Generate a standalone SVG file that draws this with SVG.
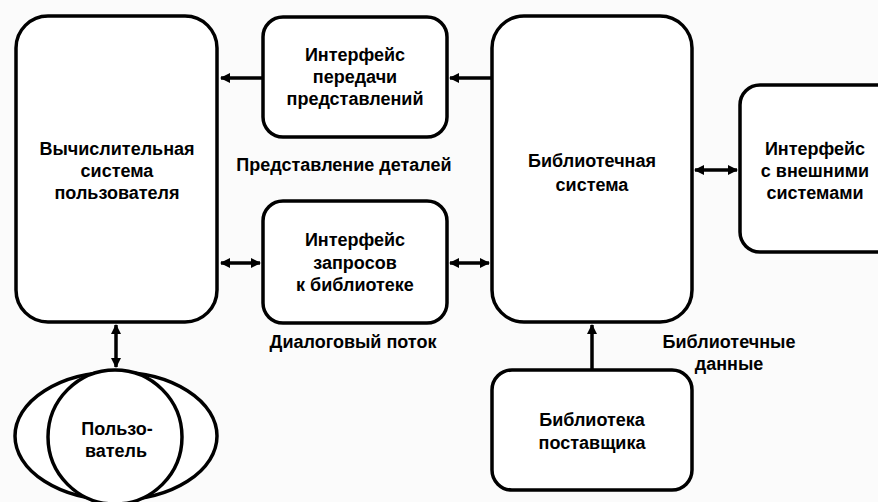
<svg xmlns="http://www.w3.org/2000/svg" width="878" height="502" viewBox="0 0 878 502">
<defs>
<style>
.box{fill:#fff;stroke:#000;stroke-width:3.5}
.t{font-family:"Liberation Sans",Arial,sans-serif;font-size:18px;font-weight:bold;fill:#000;text-anchor:middle}
.c{fill:none;stroke:#000;stroke-width:3.5}
</style>
<marker id="ah" viewBox="0 0 10 10" refX="9" refY="5" markerWidth="10" markerHeight="10" markerUnits="userSpaceOnUse" orient="auto-start-reverse">
<path d="M0,0 L10,5 L0,10 Z" fill="#000"/>
</marker>
</defs>
<rect width="878" height="502" fill="#fbfbfb"/>
<g id="connectors">
<line class="c" x1="263" y1="78" x2="221" y2="78" marker-end="url(#ah)"/>
<line class="c" x1="492" y1="78" x2="450" y2="78" marker-end="url(#ah)"/>
<line class="c" x1="221" y1="263" x2="260" y2="263" marker-start="url(#ah)" marker-end="url(#ah)"/>
<line class="c" x1="450" y1="263" x2="489" y2="263" marker-start="url(#ah)" marker-end="url(#ah)"/>
<line class="c" x1="695" y1="170" x2="737" y2="170" marker-start="url(#ah)" marker-end="url(#ah)"/>
<line class="c" x1="116" y1="325" x2="116" y2="367" marker-start="url(#ah)" marker-end="url(#ah)"/>
<line class="c" x1="592" y1="370" x2="592" y2="325" marker-end="url(#ah)"/>
</g>
<g id="user-system">
<rect class="box" x="16" y="16" width="201" height="306" rx="32"/>
<text class="t" x="117" y="155">Вычислительная</text>
<text class="t" x="117" y="177">система</text>
<text class="t" x="117" y="199">пользователя</text>
</g>
<g id="present-iface">
<rect class="box" x="263" y="17" width="184" height="120" rx="20"/>
<text class="t" x="355" y="61">Интерфейс</text>
<text class="t" x="355" y="83">передачи</text>
<text class="t" x="355" y="105">представлений</text>
</g>
<g id="label-details">
<text class="t" x="344" y="171">Представление деталей</text>
</g>
<g id="query-iface">
<rect class="box" x="263" y="201" width="184" height="122" rx="20"/>
<text class="t" x="355" y="246">Интерфейс</text>
<text class="t" x="355" y="269">запросов</text>
<text class="t" x="355" y="291">к библиотеке</text>
</g>
<g id="label-dialog">
<text class="t" x="353" y="348">Диалоговый поток</text>
</g>
<g id="library-system">
<rect class="box" x="492" y="16" width="200" height="306" rx="32"/>
<text class="t" x="592" y="167">Библиотечная</text>
<text class="t" x="592" y="191">система</text>
</g>
<g id="external-iface">
<rect class="box" x="740" y="85" width="160" height="167" rx="20"/>
<text class="t" x="815" y="155">Интерфейс</text>
<text class="t" x="815" y="177">с внешними</text>
<text class="t" x="815" y="199">системами</text>
</g>
<g id="label-libdata">
<text class="t" x="729" y="348">Библиотечные</text>
<text class="t" x="729" y="370">данные</text>
</g>
<g id="supplier-library">
<rect class="box" x="492" y="370" width="200" height="120" rx="20"/>
<text class="t" x="592" y="426">Библиотека</text>
<text class="t" x="592" y="449">поставщика</text>
</g>
<g id="user">
<ellipse class="box" cx="116" cy="436" rx="101" ry="64"/>
<circle class="box" cx="115" cy="437" r="67"/>
<text class="t" x="117" y="435">Пользо-</text>
<text class="t" x="116" y="457">ватель</text>
</g>
</svg>
